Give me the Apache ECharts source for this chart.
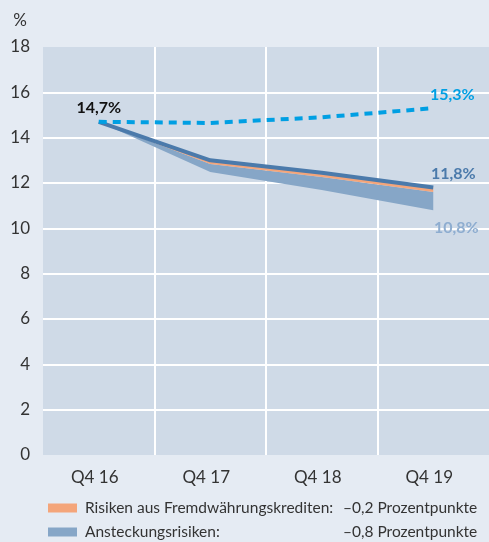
<!DOCTYPE html>
<html>
<head>
<meta charset="utf-8">
<script src="https://cdn.jsdelivr.net/npm/echarts@6/dist/echarts.min.js"></script>
<style>
  html, body { margin: 0; padding: 0; background: #e5ebf3; }
  #chart { width: 489px; height: 542px; }
</style>
</head>
<body>
<div id="chart"></div>
<script>
// values
let quarters = ['Q4 16', 'Q4 17', 'Q4 18', 'Q4 19'];
let baseline = [14.7, 13.0, 12.45, 11.8];      // dark blue line
let fxRisk = [0, 0.16, 0.18, 0.2];             // orange band below the line
let contagion = [0, 0.36, 0.58, 0.8];          // light blue band
let projection = [14.7, 14.65, 14.9, 15.3];    // dashed line
let yTicks = [0, 2, 4, 6, 8, 10, 12, 14, 16, 18];
let legendNames = ['Risiken aus Fremdwährungskrediten:', 'Ansteckungsrisiken:'];
let legendValues = ['–0,2 Prozentpunkte', '–0,8 Prozentpunkte'];

let bandBottom = baseline.map((v, i) => +(v - fxRisk[i] - contagion[i]).toFixed(2));

let pct = (v) => v.toFixed(1).replace('.', ',') + '%';

let font = 'Lato, "Open Sans", sans-serif';
let textColor = '#333333';
let labelBase = { show: true, fontFamily: font, fontSize: 16, fontWeight: 'bold', formatter: (p) => pct(p.value) };

// puts a label on selected points only
let labelled = (arr, labels) => arr.map((v, i) => (labels[i] ? { value: v, label: Object.assign({}, labelBase, labels[i]) } : v));

let makeLegend = (i, top) => ({
  left: 43,
  top: top,
  itemWidth: 29,
  itemHeight: 9,
  icon: 'rect',
  data: [legendNames[i]],
  formatter: (name) => '{a|' + name + '}{b|' + legendValues[legendNames.indexOf(name)] + '}',
  textStyle: {
    color: textColor,
    fontFamily: font,
    fontSize: 15.5,
    rich: {
      a: { width: 258, padding: [0, 0, 0, 3], fontFamily: font, fontSize: 15.5, color: textColor },
      b: { fontFamily: font, fontSize: 15.5, color: textColor }
    }
  }
});

let chart = echarts.init(document.getElementById('chart'));
chart.setOption({
  backgroundColor: '#e5ebf3',
  animation: false,
  grid: {
    left: 43,
    right: 0,
    top: 47,
    bottom: 87,
    show: true,
    backgroundColor: '#cfdae7',
    borderWidth: 0
  },
  legend: [makeLegend(0, 495), makeLegend(1, 519)],
  xAxis: {
    type: 'category',
    data: quarters,
    boundaryGap: true,
    axisLine: { show: false },
    axisTick: { show: false },
    axisLabel: { color: textColor, fontFamily: font, fontSize: 17, margin: 14, padding: [0, 8, 0, 0] },
    splitLine: {
      show: true,
      showMinLine: false,
      showMaxLine: false,
      lineStyle: { color: '#ffffff', width: 2 }
    }
  },
  yAxis: {
    type: 'value',
    min: yTicks[0],
    max: yTicks[yTicks.length - 1],
    interval: 2,
    name: '%',
    nameLocation: 'end',
    nameGap: 18,
    nameTextStyle: { color: textColor, fontFamily: font, fontSize: 17, align: 'right', padding: [0, 16, 0, 0] },
    axisLine: { show: false },
    axisTick: { show: false },
    axisLabel: { color: textColor, fontFamily: font, fontSize: 17, margin: 13 },
    splitLine: {
      show: true,
      showMinLine: false,
      showMaxLine: false,
      lineStyle: { color: '#ffffff', width: 2 }
    }
  },
  series: [
    {
      name: 'bottom',
      type: 'line',
      stack: 'band',
      symbol: 'circle',
      symbolSize: 0,
      lineStyle: { width: 0, opacity: 0 },
      data: labelled(bandBottom, { 3: { position: 'bottom', distance: 10, offset: [23, 0], color: '#8eadd0' } }),
      z: 2
    },
    {
      name: legendNames[1],
      type: 'line',
      stack: 'band',
      symbol: 'none',
      itemStyle: { color: '#86a6c7' },
      lineStyle: { width: 0 },
      areaStyle: { color: '#86a6c7', opacity: 1 },
      data: contagion,
      z: 2
    },
    {
      name: legendNames[0],
      type: 'line',
      stack: 'band',
      symbol: 'none',
      itemStyle: { color: '#f4a57a' },
      lineStyle: { width: 0 },
      areaStyle: { color: '#f4a57a', opacity: 1 },
      data: fxRisk,
      z: 2
    },
    {
      name: 'baseline',
      type: 'line',
      symbol: 'circle',
      symbolSize: 0,
      lineStyle: { color: '#4b7aab', width: 4 },
      data: labelled(baseline, { 3: { position: 'top', distance: 6, offset: [20, 0], color: '#4b7aab' } }),
      z: 3
    },
    {
      name: 'projection',
      type: 'line',
      symbol: 'circle',
      symbolSize: 0,
      lineStyle: { color: '#009fe3', width: 4, type: [8, 6] },
      data: labelled(projection, {
        0: { position: 'top', distance: 6, color: '#111111' },
        3: { position: 'top', distance: 5, offset: [19, 0], color: '#009fe3' }
      }),
      z: 4
    }
  ]
});
</script>
</body>
</html>
